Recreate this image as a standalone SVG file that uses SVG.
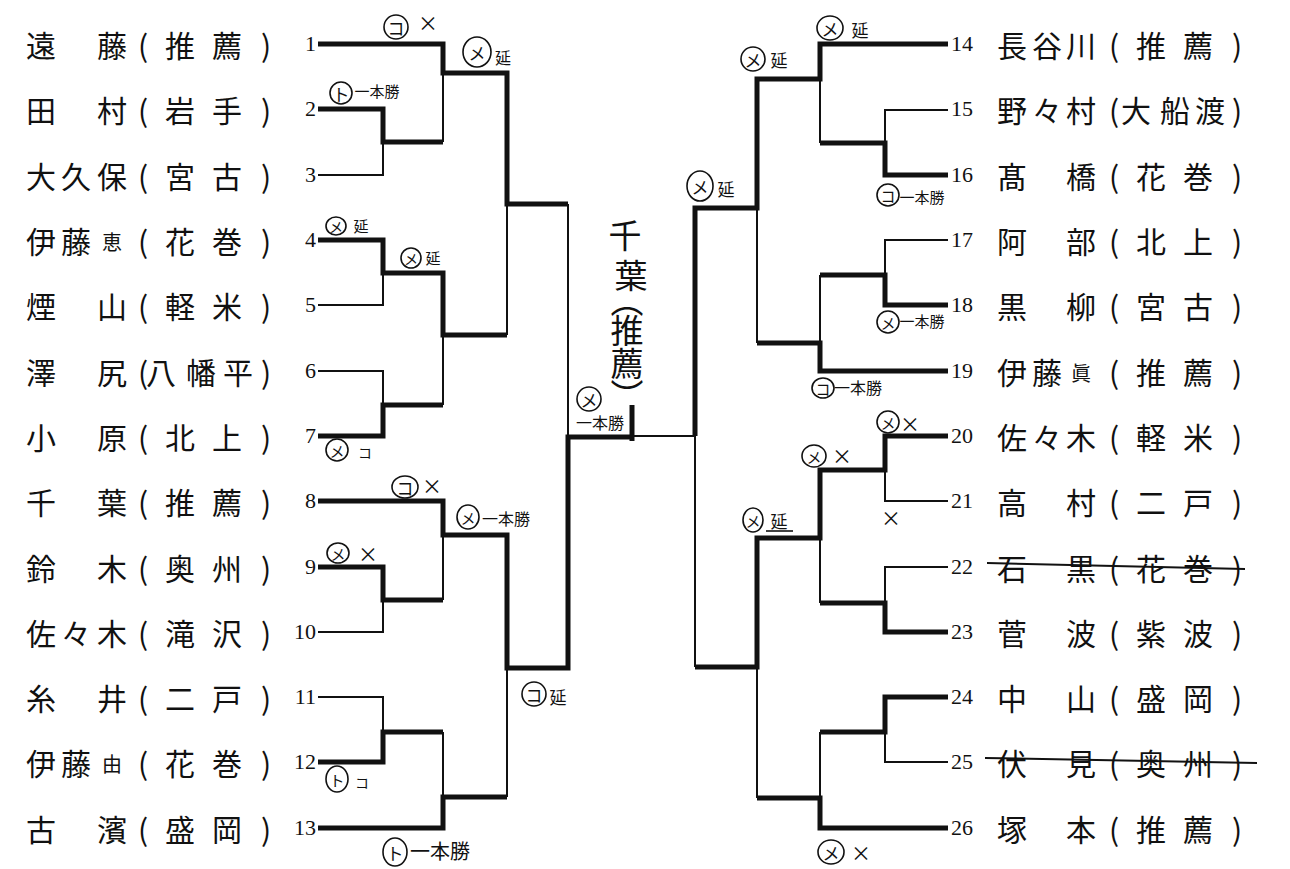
<svg xmlns="http://www.w3.org/2000/svg" width="1290" height="869" viewBox="0 0 1290 869">
<style>
.nm{font-family:"Noto Sans CJK JP","Noto Sans CJK SC",sans-serif;font-size:30px;fill:#111;text-anchor:middle;dominant-baseline:central}
.sm{font-size:20px}
.num{font-family:"Liberation Serif",serif;font-size:22px;fill:#111}
.thin{fill:none;stroke:#111;stroke-width:2;stroke-linejoin:miter}
.thick{fill:none;stroke:#111;stroke-width:5;stroke-linejoin:miter}
.hw{font-family:"Noto Sans CJK JP",sans-serif;font-size:17px;fill:#111;text-anchor:middle;dominant-baseline:central}
.hc{fill:none;stroke:#111;stroke-width:1.6}
.vt{font-family:"Noto Sans CJK JP",sans-serif;font-size:33px;fill:#111;text-anchor:middle;writing-mode:vertical-rl}
.s14{font-size:14px}.s15{font-size:15px}.s16{font-size:16px}.s20{font-size:20px}
.strike{stroke:#111;stroke-width:2}
</style>
<rect width="1290" height="869" fill="#fff"/>

<!-- left players -->
<g id="p1"><text class="nm" y="44"><tspan x="41">遠</tspan><tspan x="112">藤</tspan><tspan x="143">(</tspan><tspan x="180">推</tspan><tspan x="227">薦</tspan><tspan x="266">)</tspan></text><text class="num" x="316" y="51" text-anchor="end">1</text></g>
<g id="p2"><text class="nm" y="109"><tspan x="41">田</tspan><tspan x="112">村</tspan><tspan x="143">(</tspan><tspan x="180">岩</tspan><tspan x="227">手</tspan><tspan x="266">)</tspan></text><text class="num" x="316" y="116" text-anchor="end">2</text></g>
<g id="p3"><text class="nm" y="175"><tspan x="41">大</tspan><tspan x="76">久</tspan><tspan x="112">保</tspan><tspan x="143">(</tspan><tspan x="180">宮</tspan><tspan x="227">古</tspan><tspan x="266">)</tspan></text><text class="num" x="316" y="182" text-anchor="end">3</text></g>
<g id="p4"><text class="nm" y="240"><tspan x="41">伊</tspan><tspan x="76">藤</tspan><tspan x="112" class="sm" dy="1">恵</tspan><tspan x="143" dy="-1">(</tspan><tspan x="180">花</tspan><tspan x="227">巻</tspan><tspan x="266">)</tspan></text><text class="num" x="316" y="247" text-anchor="end">4</text></g>
<g id="p5"><text class="nm" y="305"><tspan x="41">煙</tspan><tspan x="112">山</tspan><tspan x="143">(</tspan><tspan x="180">軽</tspan><tspan x="227">米</tspan><tspan x="266">)</tspan></text><text class="num" x="316" y="312" text-anchor="end">5</text></g>
<g id="p6"><text class="nm" y="371"><tspan x="41">澤</tspan><tspan x="112">尻</tspan><tspan x="143">(</tspan><tspan x="161">八</tspan><tspan x="201">幡</tspan><tspan x="238">平</tspan><tspan x="266">)</tspan></text><text class="num" x="316" y="378" text-anchor="end">6</text></g>
<g id="p7"><text class="nm" y="436"><tspan x="41">小</tspan><tspan x="112">原</tspan><tspan x="143">(</tspan><tspan x="180">北</tspan><tspan x="227">上</tspan><tspan x="266">)</tspan></text><text class="num" x="316" y="443" text-anchor="end">7</text></g>
<g id="p8"><text class="nm" y="501"><tspan x="41">千</tspan><tspan x="112">葉</tspan><tspan x="143">(</tspan><tspan x="180">推</tspan><tspan x="227">薦</tspan><tspan x="266">)</tspan></text><text class="num" x="316" y="508" text-anchor="end">8</text></g>
<g id="p9"><text class="nm" y="567"><tspan x="41">鈴</tspan><tspan x="112">木</tspan><tspan x="143">(</tspan><tspan x="180">奥</tspan><tspan x="227">州</tspan><tspan x="266">)</tspan></text><text class="num" x="316" y="574" text-anchor="end">9</text></g>
<g id="p10"><text class="nm" y="632"><tspan x="41">佐</tspan><tspan x="76">々</tspan><tspan x="112">木</tspan><tspan x="143">(</tspan><tspan x="180">滝</tspan><tspan x="227">沢</tspan><tspan x="266">)</tspan></text><text class="num" x="316" y="639" text-anchor="end">10</text></g>
<g id="p11"><text class="nm" y="697"><tspan x="41">糸</tspan><tspan x="112">井</tspan><tspan x="143">(</tspan><tspan x="180">二</tspan><tspan x="227">戸</tspan><tspan x="266">)</tspan></text><text class="num" x="316" y="704" text-anchor="end">11</text></g>
<g id="p12"><text class="nm" y="762"><tspan x="41">伊</tspan><tspan x="76">藤</tspan><tspan x="112" class="sm" dy="1">由</tspan><tspan x="143" dy="-1">(</tspan><tspan x="180">花</tspan><tspan x="227">巻</tspan><tspan x="266">)</tspan></text><text class="num" x="316" y="769" text-anchor="end">12</text></g>
<g id="p13"><text class="nm" y="828"><tspan x="41">古</tspan><tspan x="112">濱</tspan><tspan x="143">(</tspan><tspan x="180">盛</tspan><tspan x="227">岡</tspan><tspan x="266">)</tspan></text><text class="num" x="316" y="835" text-anchor="end">13</text></g>

<!-- right players -->
<g id="p14"><text class="num" x="951" y="51">14</text><text class="nm" y="44"><tspan x="1012">長</tspan><tspan x="1047">谷</tspan><tspan x="1081">川</tspan><tspan x="1114">(</tspan><tspan x="1151">推</tspan><tspan x="1198">薦</tspan><tspan x="1237">)</tspan></text></g>
<g id="p15"><text class="num" x="951" y="116">15</text><text class="nm" y="109"><tspan x="1012">野</tspan><tspan x="1047">々</tspan><tspan x="1081">村</tspan><tspan x="1114">(</tspan><tspan x="1136">大</tspan><tspan x="1175">船</tspan><tspan x="1210">渡</tspan><tspan x="1237">)</tspan></text></g>
<g id="p16"><text class="num" x="951" y="182">16</text><text class="nm" y="175"><tspan x="1012">髙</tspan><tspan x="1081">橋</tspan><tspan x="1114">(</tspan><tspan x="1151">花</tspan><tspan x="1198">巻</tspan><tspan x="1237">)</tspan></text></g>
<g id="p17"><text class="num" x="951" y="247">17</text><text class="nm" y="240"><tspan x="1012">阿</tspan><tspan x="1081">部</tspan><tspan x="1114">(</tspan><tspan x="1151">北</tspan><tspan x="1198">上</tspan><tspan x="1237">)</tspan></text></g>
<g id="p18"><text class="num" x="951" y="312">18</text><text class="nm" y="305"><tspan x="1012">黒</tspan><tspan x="1081">柳</tspan><tspan x="1114">(</tspan><tspan x="1151">宮</tspan><tspan x="1198">古</tspan><tspan x="1237">)</tspan></text></g>
<g id="p19"><text class="num" x="951" y="378">19</text><text class="nm" y="371"><tspan x="1012">伊</tspan><tspan x="1047">藤</tspan><tspan x="1081" class="sm" dy="1">眞</tspan><tspan x="1114" dy="-1">(</tspan><tspan x="1151">推</tspan><tspan x="1198">薦</tspan><tspan x="1237">)</tspan></text></g>
<g id="p20"><text class="num" x="951" y="443">20</text><text class="nm" y="436"><tspan x="1012">佐</tspan><tspan x="1047">々</tspan><tspan x="1081">木</tspan><tspan x="1114">(</tspan><tspan x="1151">軽</tspan><tspan x="1198">米</tspan><tspan x="1237">)</tspan></text></g>
<g id="p21"><text class="num" x="951" y="508">21</text><text class="nm" y="501"><tspan x="1012">高</tspan><tspan x="1081">村</tspan><tspan x="1114">(</tspan><tspan x="1151">二</tspan><tspan x="1198">戸</tspan><tspan x="1237">)</tspan></text></g>
<g id="p22"><text class="num" x="951" y="574">22</text><text class="nm" y="567"><tspan x="1012">石</tspan><tspan x="1081">黒</tspan><tspan x="1114">(</tspan><tspan x="1151">花</tspan><tspan x="1198">巻</tspan><tspan x="1237">)</tspan></text><line class="strike" x1="987" y1="563" x2="1245" y2="569"/></g>
<g id="p23"><text class="num" x="951" y="639">23</text><text class="nm" y="632"><tspan x="1012">菅</tspan><tspan x="1081">波</tspan><tspan x="1114">(</tspan><tspan x="1151">紫</tspan><tspan x="1198">波</tspan><tspan x="1237">)</tspan></text></g>
<g id="p24"><text class="num" x="951" y="704">24</text><text class="nm" y="697"><tspan x="1012">中</tspan><tspan x="1081">山</tspan><tspan x="1114">(</tspan><tspan x="1151">盛</tspan><tspan x="1198">岡</tspan><tspan x="1237">)</tspan></text></g>
<g id="p25"><text class="num" x="951" y="769">25</text><text class="nm" y="762"><tspan x="1012">伏</tspan><tspan x="1081">見</tspan><tspan x="1114">(</tspan><tspan x="1151">奥</tspan><tspan x="1198">州</tspan><tspan x="1237">)</tspan></text><line class="strike" x1="985" y1="758" x2="1257" y2="763"/></g>
<g id="p26"><text class="num" x="951" y="835">26</text><text class="nm" y="828"><tspan x="1012">塚</tspan><tspan x="1081">本</tspan><tspan x="1114">(</tspan><tspan x="1151">推</tspan><tspan x="1198">薦</tspan><tspan x="1237">)</tspan></text></g>

<!-- connectors -->
<g id="connectors">
  <path class="thin" d="M443,73V142 M318,175H383V142 M507,204V335 M318,305H383V273 M318,371H383V405 M443,405V335 M568,204V437 M443,600V535 M318,632H383V600 M318,697H383V732 M443,732V797 M507,797V668 M633,436H695"/>
  <path class="thick" d="M318,44H443V73H507V204H568"/>
  <path class="thick" d="M318,109H383V142H443"/>
  <path class="thick" d="M318,240H383V273H443V335H507"/>
  <path class="thick" d="M318,436H383V405H443"/>
  <path class="thick" d="M318,501H443V535H507V668H568V437H633"/>
  <path class="thick" d="M632,405V441"/>
  <path class="thick" d="M318,567H383V600H443"/>
  <path class="thick" d="M318,762H383V732H443"/>
  <path class="thick" d="M318,828H443V797H507"/>
  <path class="thin" d="M820,79V143 M948,110H885V143 M948,240H885V275 M820,275V343 M757,208V343 M695,436V667 M948,501H885V470 M948,567H885V603 M820,603V538 M948,762H885V732 M820,732V798 M757,798V667"/>
  <path class="thick" d="M948,44H820V79H757V208H695V436"/>
  <path class="thick" d="M948,175H885V143H820"/>
  <path class="thick" d="M948,305H885V275H820"/>
  <path class="thick" d="M948,371H820V343H757"/>
  <path class="thick" d="M948,436H885V470H820V538H757V667H695"/>
  <path class="thick" d="M948,632H885V603H820"/>
  <path class="thick" d="M948,697H885V732H820"/>
  <path class="thick" d="M948,828H820V798H757"/>
</g>

<!-- handwritten notes -->
<g id="notes">
  <ellipse class="hc" cx="396" cy="27" rx="12" ry="12"/><text class="hw" x="396" y="27">コ</text><text class="hw s20" x="428" y="22">×</text>
  <ellipse class="hc" cx="341" cy="93" rx="11" ry="11"/><text class="hw" x="341" y="93">ト</text><text class="hw s15" x="377" y="90">一本勝</text>
  <ellipse class="hc" cx="336" cy="226" rx="10" ry="9"/><text class="hw s14" x="336" y="226">メ</text><text class="hw s15" x="361" y="225">延</text>
  <ellipse class="hc" cx="411" cy="258" rx="10" ry="10"/><text class="hw s14" x="411" y="258">メ</text><text class="hw s15" x="433" y="257">延</text>
  <ellipse class="hc" cx="477" cy="52" rx="14" ry="15"/><text class="hw" x="477" y="52">メ</text><text class="hw s16" x="503" y="57">延</text>
  <ellipse class="hc" cx="337" cy="450" rx="11" ry="11"/><text class="hw s15" x="337" y="450">メ</text><text class="hw s14" x="365" y="452">コ</text>
  <ellipse class="hc" cx="405" cy="487" rx="13" ry="11"/><text class="hw" x="405" y="487">コ</text><text class="hw s20" x="432" y="485">×</text>
  <ellipse class="hc" cx="338" cy="553" rx="11" ry="10"/><text class="hw s15" x="338" y="553">メ</text><text class="hw s20" x="368" y="553">×</text>
  <ellipse class="hc" cx="468" cy="517" rx="11" ry="12"/><text class="hw s15" x="468" y="517">メ</text><text class="hw s16" x="506" y="518">一本勝</text>
  <ellipse class="hc" cx="337" cy="779" rx="11" ry="13"/><text class="hw s15" x="337" y="779">ト</text><text class="hw s14" x="362" y="782">コ</text>
  <ellipse class="hc" cx="395" cy="852" rx="12" ry="14"/><text class="hw" x="395" y="852">ト</text><text class="hw s20" x="440" y="850">一本勝</text>
  <ellipse class="hc" cx="534" cy="694" rx="12" ry="12"/><text class="hw" x="534" y="694">コ</text><text class="hw" x="558" y="696">延</text>
  <text id="champion" class="vt" x="627"><tspan x="625" y="235">千</tspan><tspan x="631" y="275">葉</tspan><tspan x="627" y="300">（</tspan><tspan x="627" y="330">推</tspan><tspan x="627" y="363">薦</tspan><tspan x="627" y="395">）</tspan></text>
  <ellipse class="hc" cx="589" cy="399" rx="12" ry="12"/><text class="hw" x="589" y="399">メ</text><text class="hw s16" x="600" y="422">一本勝</text>
  <ellipse class="hc" cx="700" cy="186" rx="13" ry="15"/><text class="hw" x="700" y="186">メ</text><text class="hw" x="726" y="188">延</text>
  <ellipse class="hc" cx="753" cy="59" rx="12" ry="12"/><text class="hw" x="753" y="59">メ</text><text class="hw" x="779" y="59">延</text>
  <ellipse class="hc" cx="830" cy="28" rx="13" ry="12"/><text class="hw" x="830" y="28">メ</text><text class="hw" x="860" y="29">延</text>
  <ellipse class="hc" cx="888" cy="195" rx="11" ry="11"/><text class="hw s15" x="888" y="195">コ</text><text class="hw s15" x="922" y="196">一本勝</text>
  <ellipse class="hc" cx="888" cy="322" rx="11" ry="11"/><text class="hw s15" x="888" y="322">メ</text><text class="hw s15" x="922" y="320">一本勝</text>
  <ellipse class="hc" cx="823" cy="388" rx="11" ry="10"/><text class="hw s15" x="823" y="388">コ</text><text class="hw s16" x="858" y="387">一本勝</text>
  <ellipse class="hc" cx="888" cy="422" rx="11" ry="11"/><text class="hw s15" x="888" y="422">メ</text><text class="hw s20" x="910" y="423">×</text>
  <ellipse class="hc" cx="814" cy="456" rx="12" ry="11"/><text class="hw s15" x="814" y="456">メ</text><text class="hw s20" x="842" y="455">×</text>
  <text class="hw s20" x="891" y="517">×</text>
  <ellipse class="hc" cx="753" cy="520" rx="10" ry="12"/><text class="hw s15" x="753" y="520">メ</text><text class="hw" x="779" y="520">延</text><path class="hc" d="M766,531H793"/>
  <ellipse class="hc" cx="831" cy="852" rx="13" ry="12"/><text class="hw" x="831" y="852">メ</text><text class="hw s20" x="861" y="852">×</text>
</g>
</svg>
